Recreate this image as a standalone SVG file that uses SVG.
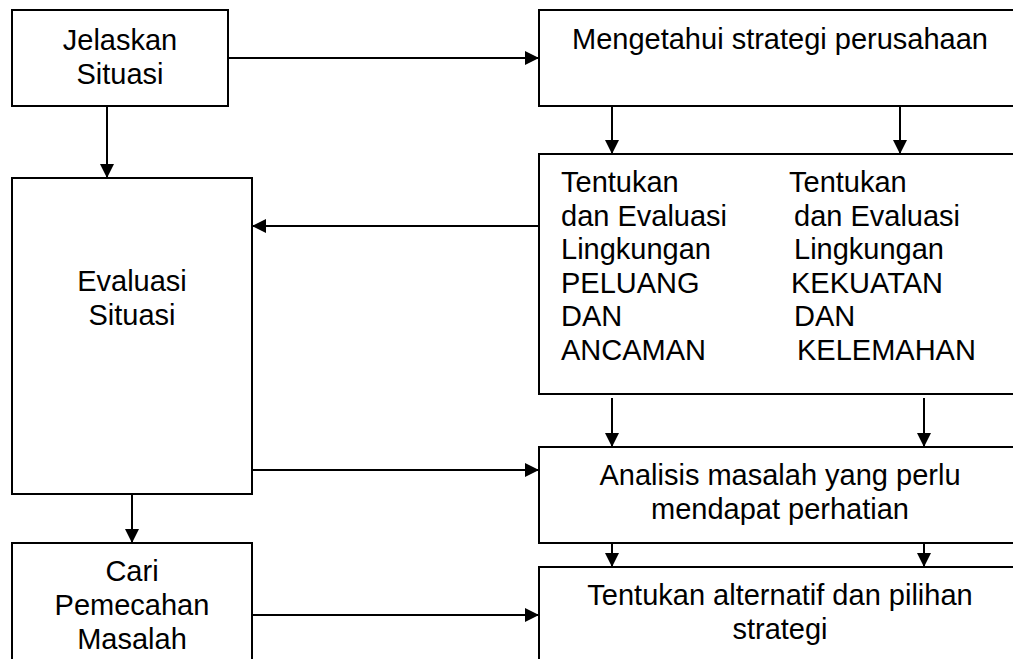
<svg xmlns="http://www.w3.org/2000/svg" width="1013" height="659" viewBox="0 0 1013 659">
<style>
.box{fill:#fff;stroke:#000;stroke-width:2}
.t{font-family:"Liberation Sans",Arial,sans-serif;font-size:29px;fill:#000}
.c{text-anchor:middle}
.ln{stroke:#000;stroke-width:2;fill:none;marker-end:url(#ah)}
</style>
<defs>
<marker id="ah" markerUnits="userSpaceOnUse" markerWidth="14" markerHeight="14" viewBox="0 0 14 14" refX="14" refY="7" orient="auto">
<path d="M0,0 L14,7 L0,14 Z" fill="#000"/>
</marker>
</defs>
<rect width="1013" height="659" fill="#fff"/>
<g id="connectors">
<path class="ln" d="M228,58 H539"/>
<path class="ln" d="M107,106 V178"/>
<path class="ln" d="M612,106 V154"/>
<path class="ln" d="M900,106 V154"/>
<path class="ln" d="M539,226 H252"/>
<path class="ln" d="M612,398 V447"/>
<path class="ln" d="M924,398 V447"/>
<path class="ln" d="M252,470 H539"/>
<path class="ln" d="M612,543 V567"/>
<path class="ln" d="M924,543 V567"/>
<path class="ln" d="M132,494 V543"/>
<path class="ln" d="M252,615 H539"/>
</g>
<g id="jelaskan">
<rect class="box" x="12" y="10" width="216" height="96"/>
<text class="t c" x="120" y="50">Jelaskan</text>
<text class="t c" x="120" y="84">Situasi</text>
</g>
<g id="mengetahui">
<rect class="box" x="539" y="10" width="484" height="96"/>
<text class="t c" x="780" y="49">Mengetahui strategi perusahaan</text>
</g>
<g id="tentukan-evaluasi">
<rect class="box" x="539" y="154" width="484" height="240"/>
<text class="t" x="561" y="192">Tentukan</text>
<text class="t" x="561" y="225.5">dan Evaluasi</text>
<text class="t" x="561" y="259">Lingkungan</text>
<text class="t" x="561" y="292.5">PELUANG</text>
<text class="t" x="561" y="326">DAN</text>
<text class="t" x="561" y="359.5">ANCAMAN</text>
<text class="t" x="789" y="192">Tentukan</text>
<text class="t" x="794" y="225.5">dan Evaluasi</text>
<text class="t" x="794" y="259">Lingkungan</text>
<text class="t" x="791" y="292.5">KEKUATAN</text>
<text class="t" x="794" y="326">DAN</text>
<text class="t" x="797" y="359.5">KELEMAHAN</text>
</g>
<g id="evaluasi">
<rect class="box" x="12" y="178" width="240" height="316"/>
<text class="t c" x="132" y="291">Evaluasi</text>
<text class="t c" x="132" y="325">Situasi</text>
</g>
<g id="analisis">
<rect class="box" x="539" y="447" width="484" height="96"/>
<text class="t c" x="780" y="485">Analisis masalah yang perlu</text>
<text class="t c" x="780" y="519">mendapat perhatian</text>
</g>
<g id="alternatif">
<rect class="box" x="539" y="567" width="484" height="110"/>
<text class="t c" x="780" y="605">Tentukan alternatif dan pilihan</text>
<text class="t c" x="780" y="639">strategi</text>
</g>
<g id="cari">
<rect class="box" x="12" y="543" width="240" height="130"/>
<text class="t c" x="132" y="581">Cari</text>
<text class="t c" x="132" y="615">Pemecahan</text>
<text class="t c" x="132" y="649">Masalah</text>
</g>
</svg>
